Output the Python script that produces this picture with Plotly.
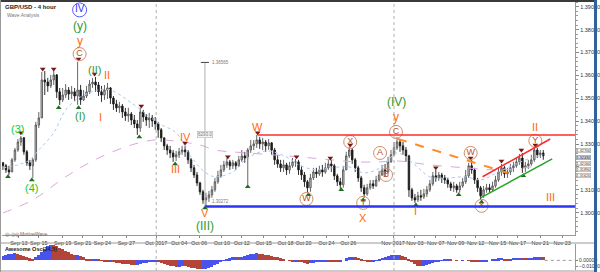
import plotly.graph_objects as go
import numpy as np

# ---------------- data ----------------
first_open = 1.3218
close = [1.3205,1.3187,1.3178,1.3231,1.3274,1.3309,1.3327,1.3266,1.3218,1.3205,
1.3231,1.3383,1.3414,1.3580,1.3571,1.3554,1.3580,1.3602,1.3528,1.3493,
1.3514,1.3536,1.3519,1.3528,1.3510,1.3536,1.3493,1.3510,1.3528,1.3562,
1.3571,1.3558,1.3528,1.3514,1.3536,1.3545,1.3501,1.3475,1.3458,1.3466,
1.3440,1.3423,1.3431,1.3405,1.3388,1.3370,1.3440,1.3418,1.3405,1.3414,
1.3401,1.3388,1.3362,1.3327,1.3292,1.3274,1.3261,1.3244,1.3253,1.3266,
1.3274,1.3266,1.3231,1.3196,1.3165,1.3130,1.3091,1.3056,1.3065,1.3078,
1.3100,1.3135,1.3161,1.3187,1.3209,1.3222,1.3205,1.3218,1.3205,1.3231,
1.3248,1.3239,1.3274,1.3292,1.3301,1.3318,1.3301,1.3309,1.3292,1.3305,
1.3274,1.3231,1.3213,1.3196,1.3209,1.3187,1.3205,1.3222,1.3222,1.3187,
1.3165,1.3135,1.3109,1.3152,1.3178,1.3170,1.3187,1.3178,1.3196,1.3213,
1.3205,1.3161,1.3135,1.3122,1.3187,1.3248,1.3274,1.3231,1.3196,1.3152,
1.3109,1.3082,1.3109,1.3126,1.3117,1.3143,1.3165,1.3187,1.3178,1.3222,
1.3253,1.3283,1.3309,1.3292,1.3274,1.3248,1.3100,1.3065,1.3056,1.3074,
1.3069,1.3082,1.3100,1.3126,1.3161,1.3152,1.3165,1.3152,1.3143,1.3126,
1.3109,1.3117,1.3100,1.3117,1.3135,1.3161,1.3205,1.3187,1.3143,1.3109,
1.3074,1.3100,1.3109,1.3100,1.3117,1.3143,1.3178,1.3196,1.3170,1.3178,
1.3196,1.3205,1.3222,1.3239,1.3196,1.3205,1.3213,1.3231,1.3274,1.3253,
1.3261,1.3248]
high = [1.3222,1.3213,1.3205,1.3239,1.3283,1.3322,1.3335,1.3331,1.3274,1.3231,
1.3239,1.3397,1.3440,1.3615,1.3619,1.3589,1.3602,1.3619,1.3606,1.3545,
1.3545,1.3562,1.3549,1.3554,1.3545,1.3659,1.3558,1.3536,1.3554,1.3580,
1.3589,1.3593,1.3571,1.3554,1.3558,1.3567,1.3549,1.3510,1.3493,1.3484,
1.3475,1.3458,1.3458,1.3440,1.3427,1.3405,1.3458,1.3449,1.3431,1.3436,
1.3427,1.3418,1.3397,1.3370,1.3327,1.3301,1.3292,1.3274,1.3270,1.3283,
1.3292,1.3292,1.3274,1.3239,1.3209,1.3178,1.3135,1.3100,1.3087,1.3095,
1.3117,1.3152,1.3183,1.3209,1.3226,1.3239,1.3231,1.3231,1.3226,1.3248,
1.3274,1.3266,1.3283,1.3318,1.3318,1.3340,1.3331,1.3327,1.3318,1.3322,
1.3309,1.3283,1.3253,1.3231,1.3231,1.3218,1.3222,1.3239,1.3235,1.3231,
1.3205,1.3178,1.3143,1.3170,1.3196,1.3196,1.3205,1.3209,1.3218,1.3231,
1.3231,1.3213,1.3170,1.3152,1.3205,1.3266,1.3287,1.3283,1.3239,1.3205,
1.3161,1.3122,1.3126,1.3143,1.3143,1.3161,1.3183,1.3209,1.3213,1.3244,
1.3274,1.3309,1.3331,1.3322,1.3309,1.3287,1.3253,1.3109,1.3082,1.3091,
1.3100,1.3104,1.3117,1.3143,1.3178,1.3187,1.3178,1.3174,1.3165,1.3152,
1.3135,1.3135,1.3126,1.3135,1.3152,1.3187,1.3218,1.3231,1.3196,1.3152,
1.3117,1.3117,1.3126,1.3126,1.3135,1.3161,1.3196,1.3213,1.3205,1.3196,
1.3213,1.3222,1.3239,1.3257,1.3261,1.3222,1.3231,1.3253,1.3287,1.3283,
1.3274,1.3274]
low = [1.3187,1.3174,1.3165,1.3178,1.3222,1.3266,1.3292,1.3253,1.3205,1.3187,
1.3152,1.3222,1.3370,1.3414,1.3514,1.3528,1.3545,1.3558,1.3501,1.3471,
1.3484,1.3501,1.3493,1.3497,1.3488,1.3471,1.3471,1.3488,1.3501,1.3519,
1.3545,1.3528,1.3510,1.3484,1.3493,1.3497,1.3475,1.3449,1.3440,1.3436,
1.3414,1.3401,1.3397,1.3383,1.3370,1.3340,1.3353,1.3397,1.3379,1.3370,
1.3375,1.3362,1.3327,1.3309,1.3274,1.3253,1.3239,1.3222,1.3226,1.3239,
1.3253,1.3244,1.3213,1.3178,1.3152,1.3117,1.3078,1.3039,1.3027,1.3047,
1.3065,1.3091,1.3126,1.3152,1.3178,1.3196,1.3187,1.3191,1.3187,1.3200,
1.3222,1.3218,1.3122,1.3261,1.3274,1.3283,1.3279,1.3274,1.3266,1.3274,
1.3253,1.3209,1.3196,1.3178,1.3178,1.3165,1.3170,1.3196,1.3200,1.3165,
1.3143,1.3113,1.3087,1.3091,1.3143,1.3152,1.3161,1.3157,1.3170,1.3187,
1.3178,1.3143,1.3117,1.3104,1.3109,1.3187,1.3239,1.3213,1.3178,1.3135,
1.3091,1.3065,1.3074,1.3100,1.3104,1.3113,1.3135,1.3161,1.3157,1.3170,
1.3218,1.3248,1.3274,1.3266,1.3253,1.3222,1.3069,1.3052,1.3043,1.3047,
1.3052,1.3060,1.3069,1.3091,1.3117,1.3135,1.3139,1.3130,1.3126,1.3109,
1.3095,1.3091,1.3087,1.3087,1.3109,1.3126,1.3152,1.3170,1.3126,1.3091,
1.3056,1.3065,1.3087,1.3087,1.3091,1.3109,1.3135,1.3161,1.3152,1.3152,
1.3165,1.3178,1.3196,1.3209,1.3174,1.3178,1.3191,1.3205,1.3222,1.3239,
1.3239,1.3231]

# Awesome Oscillator (34,5)
ao = [0.0085,0.0102,0.0111,0.0119,0.0128,0.0119,0.0102,0.0085,0.0060,0.0034,
0.0026,0.0051,0.0102,0.0153,0.0204,0.0255,0.0272,0.0264,0.0247,0.0221,
0.0196,0.0170,0.0145,0.0119,0.0094,0.0099,0.0085,0.0051,0.0026,0.0009,
0.0017,0.0026,0.0009,-0.0009,-0.0017,-0.0026,-0.0026,-0.0034,-0.0043,-0.0051,
-0.0060,-0.0068,-0.0071,-0.0073,-0.0077,-0.0073,-0.0060,-0.0051,-0.0043,-0.0034,
-0.0034,-0.0026,-0.0034,-0.0051,-0.0068,-0.0085,-0.0094,-0.0102,-0.0111,-0.0111,
-0.0102,-0.0105,-0.0116,-0.0128,-0.0139,-0.0150,-0.0156,-0.0153,-0.0145,-0.0128,
-0.0111,-0.0085,-0.0060,-0.0034,-0.0009,0.0017,0.0034,0.0051,0.0060,0.0056,
0.0065,0.0077,0.0094,0.0111,0.0119,0.0122,0.0119,0.0111,0.0102,0.0094,
0.0085,0.0068,0.0051,0.0034,0.0017,0.0000,-0.0009,-0.0017,-0.0014,-0.0020,
-0.0034,-0.0051,-0.0060,-0.0054,-0.0043,-0.0034,-0.0026,-0.0017,-0.0014,-0.0017,
-0.0020,-0.0031,-0.0034,-0.0026,0.0000,0.0034,0.0060,0.0068,0.0060,0.0043,
0.0017,-0.0009,-0.0026,-0.0034,-0.0026,-0.0009,0.0017,0.0043,0.0060,0.0077,
0.0094,0.0102,0.0102,0.0094,0.0077,0.0060,0.0026,-0.0017,-0.0060,-0.0094,
-0.0102,-0.0094,-0.0077,-0.0060,-0.0043,-0.0026,-0.0017,-0.0009,0.0009,0.0017,
0.0009,0.0000,-0.0009,0.0000,0.0005,0.0000,-0.0009,-0.0017,-0.0026,-0.0034,
-0.0034,-0.0026,-0.0014,0.0000,0.0014,0.0026,0.0034,0.0037,0.0031,0.0026,
0.0031,0.0037,0.0043,0.0048,0.0043,0.0039,0.0043,0.0048,0.0054,0.0056,
0.0060,0.0056]

# moving averages (sampled at bar positions)
ma_long_bar = [0,10,21,32,43,51,57,66,71,82,99,110,118,126,132,143,155,166,177,181]
ma_long = [1.2999,1.3056,1.3157,1.3239,1.3296,1.3318,1.3314,1.3296,1.3274,1.3261,
           1.3244,1.3231,1.3222,1.3222,1.3226,1.3209,1.3196,1.3187,1.3200,1.3209]
ma_short_bar = [0,5,9,12,17,21,26,32,36,43,52,58,63,68,71,77,82,88,95,99,105,110,
                116,121,127,132,138,143,149,155,160,166,171,177,181]
ma_short = [1.3196,1.3209,1.3231,1.3274,1.3349,1.3449,1.3506,1.3536,1.3536,1.3480,
            1.3392,1.3349,1.3244,1.3174,1.3157,1.3178,1.3239,1.3270,1.3244,1.3209,
            1.3187,1.3196,1.3200,1.3174,1.3200,1.3261,1.3209,1.3157,1.3152,1.3157,
            1.3143,1.3178,1.3209,1.3239,1.3253]

# swing high / low markers
sh_bar = [6,13.33,17,25.33,30.67,46.33,61,75.33,85.33,98.33,109.67,116.33,145,156.67,167,173.67,178.33]
sh_px = [1.3349,1.3628,1.3628,1.3672,1.3606,1.3466,1.3305,1.3244,1.3349,1.3244,1.3239,
         1.3296,1.3196,1.3239,1.3226,1.3274,1.3296]
sl_bar = [1.67,9.67,18.67,25.33,45.67,57.67,67.67,82,102.33,113.33,120.67,138.33,152.67,160.33,174.33]
sl_px = [1.3157,1.3143,1.3458,1.3458,1.3331,1.3213,1.3021,1.3113,1.3078,1.3100,1.3056,
         1.3034,1.3078,1.3047,1.3161]

# x-axis date labels
tick_bar = [5.33,12,20,26.67,33.33,41.33,51.33,59,65.67,73.33,80,87.33,94.67,100.67,
            108.33,115.67,130.67,138,145,151.67,158.33,165.67,172.33,180,187.33]
tick_txt = ["Sep 13","Sep 15","Sep 19","Sep 21","Sep 24","Sep 27","Oct 2017","Oct 04",
            "Oct 06","Oct 10","Oct 12","Oct 15","Oct 18","Oct 20","Oct 24","Oct 26",
            "Nov 2017","Nov 03","Nov 07","Nov 09","Nov 12","Nov 15","Nov 17","Nov 21","Nov 23"]
price_ticks = [1.30,1.31,1.32,1.33,1.34,1.35,1.36,1.37,1.38,1.39]
hidden_tick = 1.32   # covered by the price tags in the original

# price tags on the right axis
tag_vals = [1.32700, 1.32430, 1.32160, 1.31890, 1.31620]
tag_hl = [False, True, False, False, False]

# wave labels: (text, bar, price, colour, size)
ORG = "#ff6a0a"; GRN = "#2f9a2f"; LGR = "#19cc19"
wave_labels = [
    ("(y)", 25.67, 1.3816, GRN, 12), ("y", 25.67, 1.3752, ORG, 12),
    ("(II)", 30.67, 1.3624, GRN, 11), ("II", 35, 1.3602, ORG, 11),
    ("(3)", 5, 1.3366, LGR, 11), ("(4)", 9.67, 1.3109, LGR, 11),
    ("(I)", 25.67, 1.3423, GRN, 11), ("I", 32.67, 1.3418, ORG, 11),
    ("III", 57.67, 1.3191, ORG, 11), ("IV", 61, 1.3331, ORG, 11),
    ("V", 67.67, 1.2999, ORG, 11), ("(III)", 67.67, 1.2943, GRN, 12),
    ("W", 85.33, 1.3375, ORG, 11), ("X", 120.67, 1.2977, ORG, 11),
    ("y", 131.67, 1.3418, ORG, 12), ("(IV)", 131.67, 1.3484, GRN, 12),
    ("I", 138.33, 1.3008, ORG, 11), ("II", 178.33, 1.3375, ORG, 11),
    ("III", 183.33, 1.3069, ORG, 11),
]
circ_txt = ["C", "W", "X", "Y", "A", "B", "C", "W", "X", "Y"]
circ_bar = [25.67, 101.67, 116.33, 120.67, 126.33, 128.33, 131.67, 156.67, 160.33, 178.33]
circ_px = [1.3693, 1.3060, 1.3309, 1.3043, 1.3261, 1.3165, 1.3353, 1.3261, 1.3030, 1.3314]

# trend lines / levels
res_level = 1.3340
sup_level = 1.30272
meas_top = 1.36565

# ---------------- figure ----------------
n = len(close)
idx = np.arange(n)
opens = [first_open] + close[:-1]
hi = [max(h, o, c) for h, o, c in zip(high, opens, close)]
lo = [min(l, o, c) for l, o, c in zip(low, opens, close)]

fig = go.Figure()
fig.add_trace(go.Scatter(x=ma_long_bar, y=ma_long, mode="lines",
                         line=dict(color="#dba6dc", width=1, dash="dash", shape="spline"),
                         hoverinfo="skip"))
fig.add_trace(go.Scatter(x=ma_short_bar, y=ma_short, mode="lines",
                         line=dict(color="#a9c8f2", width=1, dash="dot", shape="spline"),
                         hoverinfo="skip"))
fig.add_trace(go.Candlestick(x=idx, open=opens, high=hi, low=lo, close=close,
                             increasing=dict(line=dict(color="#555555", width=0.9), fillcolor="#d0d0d0"),
                             decreasing=dict(line=dict(color="#1a1a1a", width=0.9), fillcolor="#1a1a1a"),
                             whiskerwidth=0))
fig.add_trace(go.Scatter(x=sh_bar, y=sh_px, mode="markers",
                         marker=dict(symbol="triangle-down", size=5, color="#7a1515")))
fig.add_trace(go.Scatter(x=sl_bar, y=sl_px, mode="markers",
                         marker=dict(symbol="triangle-up", size=5, color="#1d6e1d")))
fig.add_trace(go.Scatter(x=circ_bar, y=circ_px, mode="markers+text", text=circ_txt,
                         textposition="middle center",
                         textfont=dict(family="Liberation Sans, Arial", size=9, color="#b5532b"),
                         marker=dict(symbol="circle-open", size=13, color="#d28b68", line=dict(width=1))))
fig.add_trace(go.Scatter(x=[25.67], y=[1.3886], mode="markers+text", text=["IV"],
                         textposition="middle center",
                         textfont=dict(family="Liberation Sans, Arial", size=10, color="#3030ff"),
                         marker=dict(symbol="circle-open", size=14, color="#5a5aff", line=dict(width=1))))

ao_col = []
for i, v in enumerate(ao):
    prev = ao[i - 1] if i > 0 else v
    ao_col.append("#4a52ee" if v >= prev else "#b2443a")
fig.add_trace(go.Bar(x=idx, y=ao, marker=dict(color=ao_col, line=dict(width=0)),
                     width=1.0, xaxis="x2", yaxis="y2"))

FONT = "Liberation Sans, Arial, sans-serif"
anns = []
for t, bx, py, col, sz in wave_labels:
    anns.append(dict(x=bx, y=py, xref="x", yref="y", text=t, showarrow=False,
                     font=dict(family=FONT, size=sz, color=col), xanchor="center", yanchor="middle"))
for v, h in zip(tag_vals, tag_hl):
    anns.append(dict(x=579/600, y=v, xref="paper", yref="y", text=f"{v:.5f}", showarrow=False,
                     xanchor="left", yanchor="middle", bgcolor="#c9d6f2" if h else "#ffffff",
                     bordercolor="#8a8a8a", borderwidth=0.5, borderpad=0,
                     font=dict(family=FONT, size=3.8, color="#333")))
anns += [
    dict(x=3/600, y=1-2/272, xref="paper", yref="paper", text="<b>GBP/USD - 4 hour</b>",
         showarrow=False, xanchor="left", yanchor="top", font=dict(family=FONT, size=6, color="#222")),
    dict(x=5/600, y=1-10/272, xref="paper", yref="paper", text="Wave Analysis",
         showarrow=False, xanchor="left", yanchor="top", font=dict(family=FONT, size=5, color="#777")),
    dict(x=3/600, y=1-229/272, xref="paper", yref="paper", text="◎-◎◎ MotiveWave",
         showarrow=False, xanchor="left", yanchor="top", font=dict(family=FONT, size=5, color="#666")),
    dict(x=3/600, y=1-244/272, xref="paper", yref="paper", text="<b>Awesome Osc(34,5)</b>",
         showarrow=False, xanchor="left", yanchor="top", font=dict(family=FONT, size=5.5, color="#222")),
    dict(x=69.3, y=meas_top, xref="x", yref="y", text="1.36565", showarrow=False,
         xanchor="left", yanchor="middle", font=dict(family=FONT, size=4.5, color="#777")),
    dict(x=69.3, y=sup_level, xref="x", yref="y", text="1.30272", showarrow=False,
         xanchor="left", yanchor="bottom", font=dict(family=FONT, size=4.5, color="#777")),
    dict(x=67.67, y=(meas_top + sup_level) / 2, xref="x", yref="y", text="6293.0", showarrow=False,
         xanchor="center", yanchor="middle", bgcolor="#f4f4f4", bordercolor="#aaa", borderwidth=0.5,
         borderpad=0.5, font=dict(family=FONT, size=4.5, color="#777")),
]

shapes = [
    # frame
    dict(type="rect", xref="paper", yref="paper", x0=0, x1=1, y0=1-2/272, y1=1,
         fillcolor="#3a3a3a", line=dict(width=0)),
    dict(type="rect", xref="paper", yref="paper", x0=597/600, x1=1, y0=0, y1=1,
         fillcolor="#2f6399", line=dict(width=0)),
    dict(type="line", xref="paper", yref="paper", x0=0, x1=597/600, y0=1-243/272, y1=1-243/272,
         line=dict(color="#999", width=1)),
    dict(type="line", xref="paper", yref="paper", x0=0, x1=597/600, y0=1-271/272, y1=1-271/272,
         line=dict(color="#999", width=1)),
    dict(type="line", xref="paper", yref="paper", x0=0.5/600, x1=0.5/600, y0=0, y1=1,
         line=dict(color="#999", width=1)),
    # month separators
    dict(type="line", xref="x", yref="paper", x0=51.33, x1=51.33, y0=1-271/272, y1=1-2/272,
         line=dict(color="#b0b0b0", width=1, dash="dot")),
    dict(type="line", xref="x", yref="paper", x0=131, x1=131, y0=1-271/272, y1=1-2/272,
         line=dict(color="#b0b0b0", width=1, dash="dot")),
    # measure tool
    dict(type="line", xref="x", yref="y", x0=67.67, x1=67.67, y0=sup_level, y1=meas_top,
         line=dict(color="#b0b0b0", width=1)),
    dict(type="line", xref="x", yref="y", x0=66.3, x1=69, y0=meas_top, y1=meas_top,
         line=dict(color="#444", width=1)),
    # levels
    dict(type="line", xref="x", yref="y", x0=85.33, x1=191.67, y0=res_level, y1=res_level,
         line=dict(color="#ff2a2a", width=1.5)),
    dict(type="line", xref="x", yref="y", x0=67.67, x1=191.67, y0=sup_level, y1=sup_level,
         line=dict(color="#2b35f5", width=2.5)),
    # trend lines
    dict(type="line", xref="x", yref="y", x0=132.33, x1=169, y0=1.3322, y1=1.3174,
         line=dict(color="#ff8a26", width=2, dash="dash")),
    dict(type="line", xref="x", yref="y", x0=160.67, x1=183.33, y0=1.3157, y1=1.3322,
         line=dict(color="#ff2a2a", width=1.5)),
    dict(type="line", xref="x", yref="y", x0=160, x1=184, y0=1.3065, y1=1.3235,
         line=dict(color="#2aa52a", width=1.5)),
    # oscillator zero line to the axis
    dict(type="line", xref="x2", yref="y2", x0=181.5, x1=191.67, y0=0, y1=0,
         line=dict(color="#999", width=1, dash="dot")),
]

price_ticktext = ["" if abs(v - hidden_tick) < 1e-9 else f"{v:.5f}" for v in price_ticks]

fig.update_layout(
    width=600, height=272, margin=dict(l=0, r=0, t=0, b=0),
    paper_bgcolor="white", plot_bgcolor="white", showlegend=False,
    font=dict(family=FONT, size=6, color="#333"),
    xaxis=dict(domain=[2/600, 578/600], range=[-0.333, 191.667], anchor="y",
               tickmode="array", tickvals=tick_bar, ticktext=tick_txt, tickangle=0,
               tickfont=dict(size=5.5, color="#333"), ticks="outside", ticklen=2,
               tickcolor="#888", showline=True, linecolor="#999", linewidth=1,
               showgrid=False, zeroline=False, rangeslider=dict(visible=False)),
    yaxis=dict(domain=[1-235/272, 1-2/272], range=[1.29026, 1.39205], side="right",
               tickmode="array", tickvals=price_ticks, ticktext=price_ticktext,
               tickfont=dict(size=5.5, color="#333"), ticks="outside", ticklen=3,
               tickcolor="#888", showline=True, linecolor="#999", linewidth=1,
               minor=dict(ticks="outside", ticklen=1.5, dtick=0.002, tickcolor="#999"),
               showgrid=False, zeroline=False),
    xaxis2=dict(domain=[2/600, 578/600], range=[-0.333, 191.667], anchor="y2",
                showticklabels=False, showgrid=False, zeroline=False, showline=False),
    yaxis2=dict(domain=[1-270/272, 1-244/272], range=[-0.0170, 0.0289], side="right",
                anchor="x2", tickmode="array", tickvals=[0.0, -0.01], tickformat=".5f",
                tickfont=dict(size=5, color="#333"), ticks="outside", ticklen=2,
                tickcolor="#888", showline=True, linecolor="#999", linewidth=1,
                showgrid=False, zeroline=False),
    annotations=anns, shapes=shapes, bargap=0,
)

fig.write_html("out.html")
